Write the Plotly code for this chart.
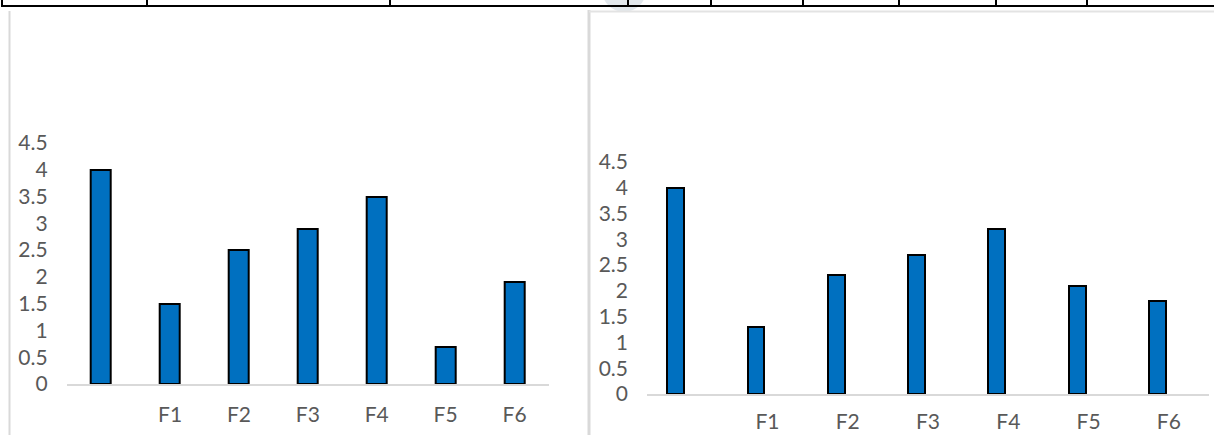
import plotly.graph_objects as go

# ---- data ----
categories = ["", "F1", "F2", "F3", "F4", "F5", "F6"]
left_values = [4.0, 1.5, 2.5, 2.9, 3.5, 0.7, 1.9]
right_values = [4.0, 1.3, 2.3, 2.7, 3.2, 2.1, 1.8]
y_ticks = [0, 0.5, 1, 1.5, 2, 2.5, 3, 3.5, 4, 4.5]

W, H = 1214, 435
BAR = "#0070c0"
TXT = "#595959"
FONT = "Lato, 'Open Sans', sans-serif"


def px(x):
    return x / W


def py(y):
    return 1 - y / H


xpos = list(range(len(categories)))

fig = go.Figure()
fig.add_trace(go.Bar(
    x=xpos, y=left_values, xaxis="x", yaxis="y",
    width=0.29, marker=dict(color=BAR, line=dict(color="black", width=2)),
    showlegend=False, hoverinfo="skip"))
right_w = 0.21
fig.add_trace(go.Bar(
    x=xpos, y=right_values, xaxis="x2", yaxis="y2",
    width=right_w, offset=-0.143 - right_w / 2,
    marker=dict(color=BAR, line=dict(color="black", width=2)),
    showlegend=False, hoverinfo="skip"))

xcommon = dict(
    tickmode="array", tickvals=xpos, ticktext=categories,
    range=[-0.5, len(categories) - 0.5], showgrid=False, zeroline=False,
    showline=True, linecolor="#d9d9d9", linewidth=1.5, ticks="",
    tickfont=dict(family=FONT, size=21, color=TXT),
    fixedrange=True, automargin=False,
)
ycommon = dict(
    range=[0, 4.5], tickmode="array", tickvals=y_ticks,
    ticktext=[f"{v:g}" for v in y_ticks],
    showgrid=False, zeroline=False, showline=False, ticks="",
    ticklabelstandoff=18, tickfont=dict(family=FONT, size=21, color=TXT),
    fixedrange=True, automargin=False,
)

fig.update_layout(
    width=W, height=H, margin=dict(l=0, r=0, t=0, b=0, autoexpand=False),
    paper_bgcolor="white", plot_bgcolor="white",
    xaxis=dict(domain=[px(66.7), px(549)], anchor="y",
               ticklabelstandoff=11, **xcommon),
    yaxis=dict(domain=[py(384), py(143)], anchor="x", **ycommon),
    xaxis2=dict(domain=[px(647), px(1209)], anchor="y2",
                ticklabelstandoff=8, **xcommon),
    yaxis2=dict(domain=[py(394), py(162)], anchor="x2", **ycommon),
    bargap=0,
)

shapes = []
# light circle at top
shapes.append(dict(type="circle", xref="paper", yref="paper",
                   x0=px(602), x1=px(646), y0=py(12), y1=py(-32),
                   fillcolor="#e2e8ed", line=dict(width=0), layer="below"))
# gray page borders
shapes.append(dict(type="line", xref="paper", yref="paper",
                   x0=px(9.5), x1=px(9.5), y0=py(11), y1=py(436),
                   line=dict(color="#d9d9d9", width=2)))
shapes.append(dict(type="line", xref="paper", yref="paper",
                   x0=px(589), x1=px(589), y0=py(10), y1=py(436),
                   line=dict(color="#d9d9d9", width=3)))
shapes.append(dict(type="line", xref="paper", yref="paper",
                   x0=px(589), x1=px(1215), y0=py(11.5), y1=py(11.5),
                   line=dict(color="#e3e3e3", width=2)))
# black table border at top
shapes.append(dict(type="line", xref="paper", yref="paper",
                   x0=px(1), x1=px(1215), y0=py(6), y1=py(6),
                   line=dict(color="black", width=2)))
for xv in [2, 147, 390, 628, 711, 803, 899, 996, 1087]:
    shapes.append(dict(type="line", xref="paper", yref="paper",
                       x0=px(xv), x1=px(xv), y0=py(-1), y1=py(6),
                       line=dict(color="black", width=2)))
fig.update_layout(shapes=shapes)

fig.write_html("out.html")
